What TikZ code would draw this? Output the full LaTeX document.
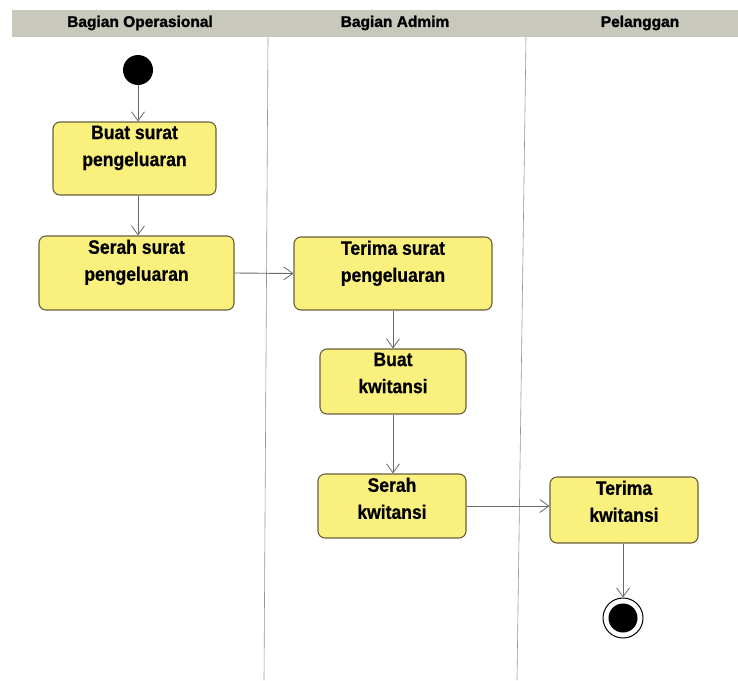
\documentclass[tikz,border=0pt]{standalone}
\usepackage{fontspec}
\setmainfont{Liberation Sans}
\newfontfamily\actfont[FakeStretch=0.9,FakeBold=0.6]{Liberation Sans}
\newfontfamily\hdrfont[FakeBold=1.6]{Liberation Sans}
\usetikzlibrary{arrows.meta}
\definecolor{actfill}{RGB}{250,240,125}
\definecolor{actdraw}{RGB}{105,95,60}
\definecolor{hdr}{RGB}{200,200,188}
\definecolor{lane}{RGB}{150,150,150}
\definecolor{flow}{RGB}{105,105,105}
\tikzset{
  act/.style={draw=actdraw, fill=actfill, line width=1.1pt, rounded corners=7pt, inner sep=0pt},
  acttext/.style={anchor=north, align=center, inner sep=0pt,
    font=\actfont\bfseries\fontsize{19.5}{27}\selectfont},
  flowline/.style={draw=flow, line width=0.9pt, -{Straight Barb[length=9pt,width=13pt,line width=0.8pt]}},
  hdrtext/.style={font=\hdrfont\bfseries\fontsize{15.5}{17}\selectfont},
  lanesep/.style={draw=lane, line width=0.6pt}
}
\begin{document}
\begin{tikzpicture}[x=1pt,y=-1pt]
\useasboundingbox (0,0) rectangle (738,680);
\fill[white] (0,0) rectangle (738,680);
% header
\fill[hdr] (12,10) rectangle (738,37);
\node[hdrtext] (h1) at (140,23) {Bagian Operasional};
\node[hdrtext] (h2) at (395,23) {Bagian Admim};
\node[hdrtext] (h3) at (640,23) {Pelanggan};
% lane separators
\draw[lanesep] (268,37) -- (264,680);
\draw[lanesep] (526,37) -- (517,680);
% start
\fill[black] (138,70) circle (15);
\coordinate (start) at (138,85);
% activities
\node[act, minimum width=163pt, minimum height=73pt] (a1) at (134.5,158.5) {};
\node[acttext] (t1) at ([yshift=-4pt]a1.north) {Buat surat\\pengeluaran};
\node[act, minimum width=195pt, minimum height=74pt] (a2) at (136.5,273) {};
\node[acttext] (t2) at ([yshift=-4pt]a2.north) {Serah surat\\pengeluaran};
\node[act, minimum width=198pt, minimum height=73pt] (a3) at (393,273.5) {};
\node[acttext] (t3) at ([yshift=-4pt]a3.north) {Terima surat\\pengeluaran};
\node[act, minimum width=146pt, minimum height=65pt] (a4) at (393,381.5) {};
\node[acttext] (t4) at ([yshift=-4pt]a4.north) {Buat\\kwitansi};
\node[act, minimum width=148pt, minimum height=64pt] (a5) at (392,506) {};
\node[acttext] (t5) at ([yshift=-4pt]a5.north) {Serah\\kwitansi};
\node[act, minimum width=148pt, minimum height=66pt] (a6) at (624,510) {};
\node[acttext] (t6) at ([yshift=-4pt]a6.north) {Terima\\kwitansi};
% end
\node[circle, draw=black, line width=1pt, fill=white, minimum size=40pt, inner sep=0pt] (end) at (623,618) {};
\fill[black] (end.center) circle (14.5);
% flows
\draw[flowline] (start) -- (a1.north -| start);
\draw[flowline] (a1.south -| start) -- (a2.north -| start);
\draw[flowline] (a2.east) -- (a3.west);
\draw[flowline] (a3.south) -- (a4.north);
\draw[flowline] (a4.south) -- (a5.north -| a4.south);
\draw[flowline] (a5.east) -- (a6.west |- a5.east);
\draw[flowline] (a6.south -| end) -- (end.north);
\end{tikzpicture}
\end{document}
